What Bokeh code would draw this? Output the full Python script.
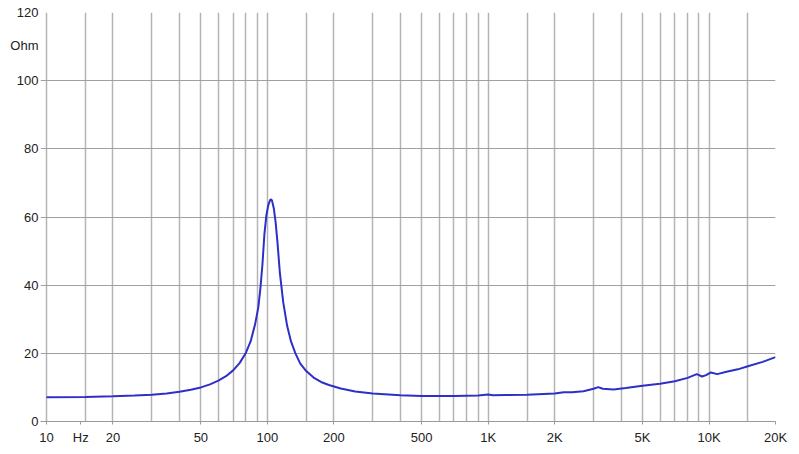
from bokeh.plotting import figure
from bokeh.models import FixedTicker
from bokeh.embed import file_html
from bokeh.resources import INLINE

# Impedance curve
freq = [10, 15, 20, 25, 30, 35, 40, 45, 50, 55, 60, 65, 70, 75, 80, 84, 88, 91, 93,
        95, 97, 99, 101, 103, 104, 105, 107, 109, 111, 114, 118, 123, 128, 134, 141,
        150, 162, 175, 190, 215, 250, 300, 400, 500, 700, 900, 1000, 1050, 1200, 1500,
        2000, 2200, 2400, 2700, 3000, 3150, 3300, 3700, 4200, 5000, 6000, 7000, 8000,
        8800, 9300, 9700, 10200, 10900, 12000, 13500, 15000, 17500, 20000]
ohm = [7.1, 7.2, 7.4, 7.6, 7.85, 8.2, 8.7, 9.3, 10.0, 10.9, 12.0, 13.3, 15.0, 17.2, 20.2,
       23.5, 28.5, 33.5, 39.0, 46.0, 55.0, 60.5, 63.5, 65.0, 65.2, 64.8, 62.5, 58.5, 53.0,
       43.5, 35.0, 28.0, 23.5, 20.0, 17.0, 14.8, 12.9, 11.6, 10.7, 9.7, 8.8, 8.2, 7.7,
       7.5, 7.5, 7.6, 7.9, 7.7, 7.75, 7.85, 8.2, 8.6, 8.55, 8.9, 9.6, 10.1, 9.6, 9.4,
       9.8, 10.5, 11.1, 11.8, 12.8, 13.9, 13.2, 13.6, 14.4, 13.9, 14.6, 15.3, 16.2,
       17.5, 18.9]

x_ticks = [10, 14.3, 20, 50, 100, 200, 500, 1000, 2000, 5000, 10000, 20000]
x_labels = ["10", "Hz", "20", "50", "100", "200", "500", "1K", "2K", "5K", "10K", "20K"]
x_grid = [10, 15, 20, 30, 40, 50, 60, 70, 80, 90, 100, 150, 200, 300, 400, 500, 600,
          700, 800, 900, 1000, 1500, 2000, 3000, 4000, 5000, 6000, 7000, 8000, 9000,
          10000, 15000, 20000]
y_ticks = [0, 20, 40, 60, 80, 100, 120]
y_unit = "Ohm"
y_unit_pos = 110.3

FONT = "Liberation Sans"

# frame starts a few pixels left of 10 Hz so the horizontal grid lines
# stick out as the y-axis tick marks
x_start = 10 * 10 ** (-6 / 221)

p = figure(width=795, height=450, x_axis_type="log", x_range=(x_start, 20000),
           y_range=(0, 120), output_backend="svg", toolbar_location=None,
           min_border_left=40, min_border_right=20, min_border_top=12,
           min_border_bottom=29)
p.background_fill_color = "white"
p.border_fill_color = "white"
p.outline_line_color = None

p.xaxis.ticker = FixedTicker(ticks=x_ticks, minor_ticks=[])
p.xaxis.major_label_overrides = {t: l for t, l in zip(x_ticks, x_labels)}
p.yaxis.ticker = FixedTicker(ticks=y_ticks + [y_unit_pos], minor_ticks=[])
p.yaxis.major_label_overrides = {y_unit_pos: y_unit}
p.xgrid.ticker = FixedTicker(ticks=x_grid, minor_ticks=[])
p.ygrid.ticker = FixedTicker(ticks=y_ticks, minor_ticks=[])

for ax in (p.xaxis, p.yaxis):
    ax.axis_line_color = "#999999"
    ax.major_tick_line_color = "#999999"
    ax.minor_tick_line_color = None
    ax.major_tick_in = 0
    ax.major_label_text_font = FONT
    ax.major_label_text_font_size = "13px"
    ax.major_label_text_color = "#222222"
p.xaxis.major_tick_out = 3
p.xaxis.major_label_standoff = 5
p.yaxis.axis_line_color = None
p.yaxis.major_tick_line_color = None
p.yaxis.major_tick_out = 0
p.yaxis.major_label_standoff = 2

p.xgrid.grid_line_color = "#b4b4b4"
p.xgrid.grid_line_width = 1.5
p.ygrid.grid_line_color = "#a0a0a0"
p.ygrid.grid_line_width = 1

p.line(freq, ohm, line_color="#2f2fc8", line_width=2)

open("out.html", "w").write(file_html(p, INLINE))
